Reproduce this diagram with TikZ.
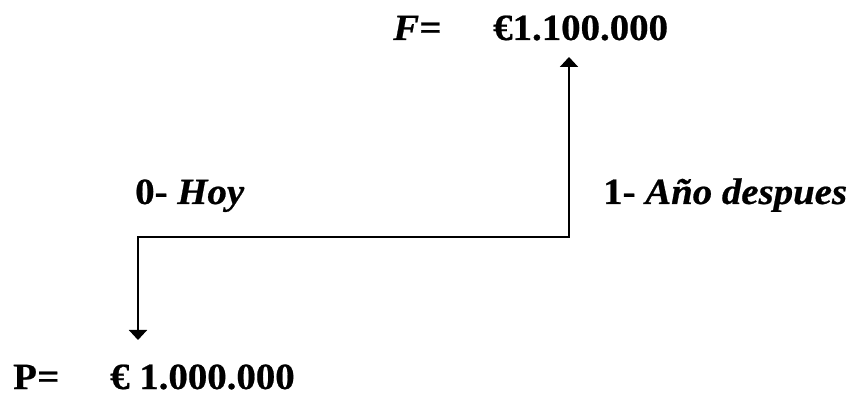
\documentclass[tikz,border=0pt]{standalone}
\usepackage{fontspec}
\setmainfont{Liberation Serif}[FakeStretch=1.05, BoldFeatures={FakeBold=0.6}, BoldItalicFeatures={FakeBold=0.6}]
\usetikzlibrary{arrows.meta}
\tikzset{
  lbl/.style={anchor=base west, inner sep=0pt, font=\fontsize{37}{40}\selectfont\bfseries},
  flow/.style={line width=2pt, line join=miter, {Triangle[width=18pt,length=10pt]}-{Triangle[width=18pt,length=10pt]}}
}
\begin{document}
\begin{tikzpicture}[x=1pt,y=1pt]
\useasboundingbox (0,0) rectangle (856,396);
\node[lbl] (fl) at (393,356) {\itshape F=};
\node[lbl] (fv) at (493,356) {€1.100.000};
\node[lbl] (t0l) at (135,192) {0- \itshape Hoy};
\node[lbl] (t1l) at (603,192) {1- \itshape Año despues};
\node[lbl] (pl) at (13,7) {P\itshape =};
\node[lbl] (pv) at (110,7) {€ 1.000.000};
\coordinate (t0) at (138,159);
\coordinate (t1) at (569,159);
\coordinate (pd) at (138,56);
\coordinate (fu) at (569,339);
\draw[flow] (pd) -- (t0) -- (t1) -- (fu);
\end{tikzpicture}
\end{document}
